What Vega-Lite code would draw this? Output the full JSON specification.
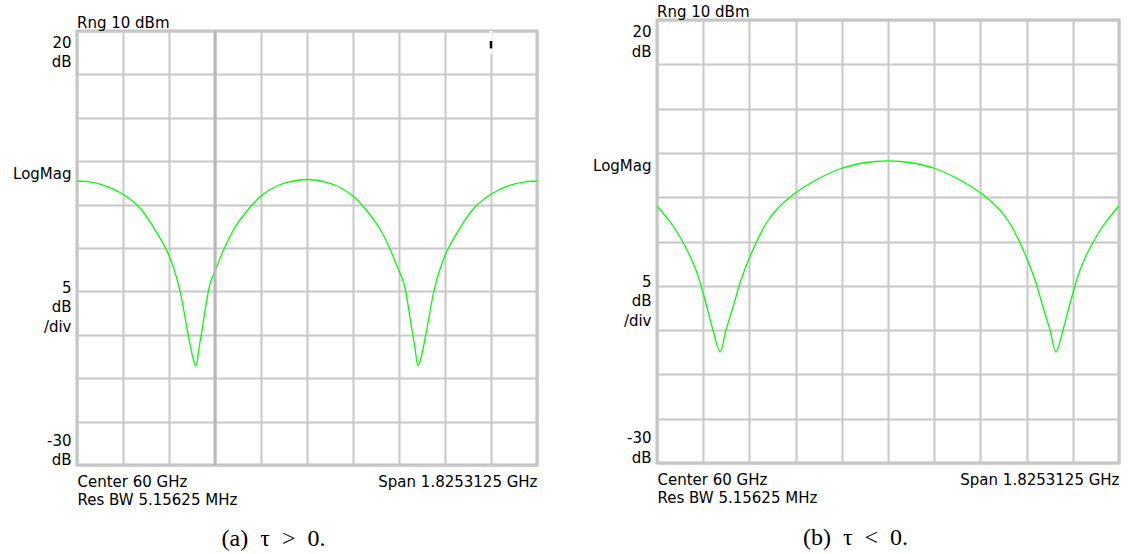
{
  "$schema": "https://vega.github.io/schema/vega-lite/v6.json",
  "background": "white",
  "padding": {"left": 11, "top": 3, "right": 0, "bottom": 0},
  "spacing": 49,
  "columns": 2,
  "align": "none",
  "config": {
    "font": "DejaVu Sans",
    "view": {"stroke": "#c0c0c0", "strokeWidth": 3},
    "axis": {
      "gridColor": "#c8c8c8", "gridWidth": 2, "domain": false, "ticks": false, "tickSize": 0,
      "labelFont": "DejaVu Sans", "labelFontSize": 15, "labelColor": "#000", "labelOverlap": false,
      "labelLineHeight": 19.5,
      "titleFont": "Liberation Serif", "titleFontSize": 24, "titleFontWeight": "normal", "titleColor": "#000"
    },
    "title": {"font": "DejaVu Sans", "fontSize": 15, "fontWeight": "normal", "color": "#000", "anchor": "start", "frame": "group", "offset": -7}
  },
  "datasets": {
    "a": [
      {"f": 59.08734375, "db": 2.72}, {"f": 59.1350, "db": 2.63}, {"f": 59.1826, "db": 2.34}, {"f": 59.2619, "db": 1.34},
      {"f": 59.3334, "db": -0.28}, {"f": 59.3929, "db": -2.70}, {"f": 59.4445, "db": -5.35}, {"f": 59.4722, "db": -7.42},
      {"f": 59.4961, "db": -9.95}, {"f": 59.5238, "db": -14.22}, {"f": 59.5476, "db": -17.67}, {"f": 59.5595, "db": -18.59},
      {"f": 59.5714, "db": -16.52}, {"f": 59.5873, "db": -13.76}, {"f": 59.6151, "db": -9.15}, {"f": 59.6429, "db": -7.07},
      {"f": 59.6706, "db": -5.12}, {"f": 59.7103, "db": -2.81}, {"f": 59.7619, "db": -0.74}, {"f": 59.8175, "db": 0.99},
      {"f": 59.8611, "db": 1.86}, {"f": 59.9206, "db": 2.55}, {"f": 60.0, "db": 2.89}, {"f": 60.0794, "db": 2.55},
      {"f": 60.1389, "db": 1.86}, {"f": 60.1825, "db": 0.99}, {"f": 60.2381, "db": -0.74}, {"f": 60.2897, "db": -2.81},
      {"f": 60.3294, "db": -5.12}, {"f": 60.3571, "db": -7.07}, {"f": 60.3849, "db": -9.15}, {"f": 60.4127, "db": -13.76},
      {"f": 60.4286, "db": -16.52}, {"f": 60.4405, "db": -18.59}, {"f": 60.4524, "db": -17.67}, {"f": 60.4762, "db": -14.22},
      {"f": 60.5039, "db": -9.95}, {"f": 60.5278, "db": -7.42}, {"f": 60.5555, "db": -5.35}, {"f": 60.6071, "db": -2.70},
      {"f": 60.6666, "db": -0.28}, {"f": 60.7381, "db": 1.34}, {"f": 60.8174, "db": 2.34}, {"f": 60.8650, "db": 2.63},
      {"f": 60.91265625, "db": 2.72}
    ],
    "b": [
      {"f": 59.08734375, "db": -0.99}, {"f": 59.1506, "db": -3.25}, {"f": 59.2059, "db": -5.96}, {"f": 59.2414, "db": -8.22},
      {"f": 59.2770, "db": -11.60}, {"f": 59.3086, "db": -14.99}, {"f": 59.3362, "db": -17.47}, {"f": 59.3600, "db": -14.99},
      {"f": 59.3876, "db": -12.39}, {"f": 59.4192, "db": -9.35}, {"f": 59.4587, "db": -6.41}, {"f": 59.5219, "db": -2.80},
      {"f": 59.5654, "db": -1.22}, {"f": 59.6286, "db": 0.36}, {"f": 59.7116, "db": 1.89}, {"f": 59.8143, "db": 3.24},
      {"f": 59.9012, "db": 3.86}, {"f": 59.9486, "db": 4.03}, {"f": 60.0, "db": 4.09}, {"f": 60.0514, "db": 4.03},
      {"f": 60.0988, "db": 3.86}, {"f": 60.1857, "db": 3.24}, {"f": 60.2884, "db": 1.89}, {"f": 60.3714, "db": 0.36},
      {"f": 60.4346, "db": -1.22}, {"f": 60.4781, "db": -2.80}, {"f": 60.5413, "db": -6.41}, {"f": 60.5808, "db": -9.35},
      {"f": 60.6124, "db": -12.39}, {"f": 60.6400, "db": -14.99}, {"f": 60.6638, "db": -17.47}, {"f": 60.6914, "db": -14.99},
      {"f": 60.7230, "db": -11.60}, {"f": 60.7586, "db": -8.22}, {"f": 60.7941, "db": -5.96}, {"f": 60.8494, "db": -3.25},
      {"f": 60.91265625, "db": -0.99}
    ]
  },
  "concat": [
    {
      "spacing": -7,
      "vconcat": [
        {
          "width": 460, "height": 1,
          "view": {"stroke": null},
          "data": {"values": []},
          "mark": "rule",
          "encoding": {}
        },
        {
          "width": 460, "height": 434,
          "title": "Rng 10 dBm",
          "encoding": {
            "x": {"field": "f", "type": "quantitative",
              "scale": {"domain": [59.08734375, 60.91265625], "nice": false, "zero": false},
              "axis": {
                "values": [59.08734375, 59.269875, 59.45240625, 59.6349375, 59.81746875, 60.0, 60.18253125, 60.3650625, 60.54759375, 60.730125, 60.91265625],
                "labelExpr": "datum.value < 59.1 ? ['Center 60 GHz', 'Res BW 5.15625 MHz'] : datum.value > 60.9 ? 'Span 1.8253125 GHz' : ''",
                "labelFlush": true, "labelBaseline": "top", "labelPadding": 9, "labelLineHeight": 18,
                "title": "(a)\u00a0\u00a0τ\u00a0\u00a0>\u00a0\u00a00.", "titleX": 196, "titleY": 80, "titleBaseline": "alphabetic", "titleAlign": "center"
              }},
            "y": {"field": "db", "type": "quantitative",
              "scale": {"domain": [-30, 20], "nice": false, "zero": false},
              "axis": {
                "values": [-30, -27.15, -25, -20, -15, -10, -9.5, -5, 0, 3.6, 5, 10, 15, 18.7, 20],
                "gridOpacity": {"condition": {"test": "datum.value % 5 === 0", "value": 1}, "value": 0},
                "labelExpr": "datum.value > 18 && datum.value < 19 ? ['20', 'dB'] : datum.value > 3 && datum.value < 4 ? 'LogMag' : datum.value < -9 && datum.value > -10 ? ['5', 'dB', '/div'] : datum.value < -27 && datum.value > -28 ? ['-30', 'dB'] : ''",
                "labelBaseline": "middle", "labelAlign": "right", "labelPadding": 6, "title": null
              }}
          },
          "layer": [
            {
              "data": {"name": "a"},
              "mark": {"type": "line", "color": "#00ff00", "strokeWidth": 1.3, "interpolate": "catmull-rom"}
            },
            {
              "data": {"values": [{"f": 59.6349375, "db": 20, "db2": -30}]},
              "mark": {"type": "rule", "color": "#b8b8b8", "strokeWidth": 3},
              "encoding": {"y2": {"field": "db2"}}
            },
            {
              "data": {"values": [{"f": 60.730125, "db": 20, "db2": 17.35, "c": "gap"}, {"f": 60.730125, "db": 18.85, "db2": 18.0, "c": "tick"}]},
              "mark": {"type": "rule", "strokeWidth": 2.5},
              "encoding": {
                "y2": {"field": "db2"},
                "color": {"field": "c", "type": "nominal", "scale": {"domain": ["gap", "tick"], "range": ["#ffffff", "#000000"]}, "legend": null}
              }
            }
          ]
        }
      ]
    },
    {
      "width": 462, "height": 443,
      "title": "Rng 10 dBm",
      "data": {"name": "b"},
      "mark": {"type": "line", "color": "#00ff00", "strokeWidth": 1.3, "interpolate": "catmull-rom"},
      "encoding": {
        "x": {"field": "f", "type": "quantitative",
          "scale": {"domain": [59.08734375, 60.91265625], "nice": false, "zero": false},
          "axis": {
            "values": [59.08734375, 59.269875, 59.45240625, 59.6349375, 59.81746875, 60.0, 60.18253125, 60.3650625, 60.54759375, 60.730125, 60.91265625],
            "labelExpr": "datum.value < 59.1 ? ['Center 60 GHz', 'Res BW 5.15625 MHz'] : datum.value > 60.9 ? 'Span 1.8253125 GHz' : ''",
            "labelFlush": true, "labelBaseline": "top", "labelPadding": 9, "labelLineHeight": 18,
            "title": "(b)\u00a0\u00a0τ\u00a0\u00a0<\u00a0\u00a00.", "titleX": 198, "titleY": 81, "titleBaseline": "alphabetic", "titleAlign": "center"
          }},
        "y": {"field": "db", "type": "quantitative",
          "scale": {"domain": [-30, 20], "nice": false, "zero": false},
          "axis": {
            "values": [-30, -27.15, -25, -20, -15, -10, -9.5, -5, 0, 3.6, 5, 10, 15, 18.7, 20],
            "gridOpacity": {"condition": {"test": "datum.value % 5 === 0", "value": 1}, "value": 0},
            "labelExpr": "datum.value > 18 && datum.value < 19 ? ['20', 'dB'] : datum.value > 3 && datum.value < 4 ? 'LogMag' : datum.value < -9 && datum.value > -10 ? ['5', 'dB', '/div'] : datum.value < -27 && datum.value > -28 ? ['-30', 'dB'] : ''",
            "labelBaseline": "middle", "labelAlign": "right", "labelPadding": 6, "title": null
          }}
      }
    }
  ]
}
